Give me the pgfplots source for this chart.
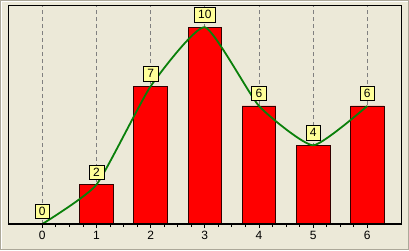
\documentclass[border=0pt]{standalone}
\usepackage{pgfplots}
\pgfplotsset{compat=1.18}
\usepackage{fontspec}
\setmainfont{Liberation Sans}
\definecolor{bg}{HTML}{ECE9D8}
\definecolor{lblyellow}{HTML}{FFFF99}
\definecolor{linegreen}{HTML}{0A800A}
\definecolor{edgegray}{HTML}{ACA899}
\begin{document}
\begin{tikzpicture}[x=1pt,y=1pt]
\fill[bg] (0,0) rectangle (409,250);
\draw[edgegray, line width=1pt] (0.5,0.5) rectangle (408.5,249.5);
\draw[white, line width=1pt] (1.5,1.5) -- (1.5,248.5) -- (407.5,248.5);
\begin{axis}[
  at={(8.3pt,26pt)}, anchor=south west,
  scale only axis, width=393.4pt, height=219pt,
  xmin=-0.628, xmax=6.635, ymin=0, ymax=11.13,
  axis line style={black, line width=0.8pt},
  ytick=\empty,
  xtick={0,1,2,3,4,5,6},
  minor x tick num=3,
  tick align=outside,
  xtick pos=left,
  major tick length=4pt, minor tick length=3pt,
  tick style={black, line width=0.8pt},
  xmajorgrids,
  major grid style={color=gray, line width=0.8pt, dash pattern=on 4pt off 3pt},
  /pgf/number format/assume math mode=true,
  ticklabel style={font=\fontsize{12}{14}\selectfont},
  clip=false,
]
\addplot[ybar, bar width=0.62, fill=red, draw=black!80!red, line width=0.8pt]
  coordinates {(0,0) (1,2) (2,7) (3,10) (4,6) (5,4) (6,6)};
\addplot[color=linegreen, line width=1.8pt, smooth, tension=0.3, mark=none,
  nodes near coords,
  every node near coord/.append style={fill=lblyellow, draw=black, line width=0.6pt,
    text=black, font=\fontsize{12}{12}\selectfont, inner xsep=4pt, inner ysep=3pt,
    text height=8.5pt, text depth=0pt, anchor=south, yshift=5pt,
    /pgf/number format/assume math mode=true}]
  coordinates {(0,0) (1,2) (2,7) (3,10) (4,6) (5,4) (6,6)};
\draw[black, line width=2pt] (rel axis cs:0,0) -- (rel axis cs:1,0);
\end{axis}
\pgfresetboundingbox
\path (0,0) rectangle (409,250);
\end{tikzpicture}
\end{document}
